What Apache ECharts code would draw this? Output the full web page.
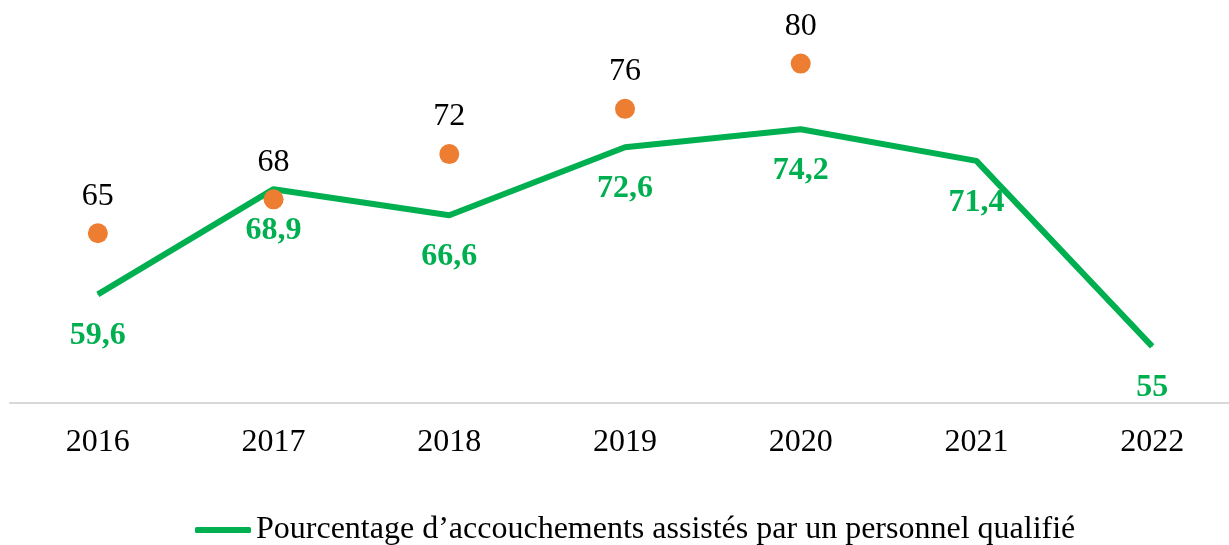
<!DOCTYPE html>
<html>
<head>
<meta charset="utf-8">
<script src="https://cdn.jsdelivr.net/npm/echarts@6/dist/echarts.min.js"></script>
<style>
  html, body { margin: 0; padding: 0; background: #fff; }
  #chart { width: 1229px; height: 545px; }
</style>
</head>
<body>
<div id="chart"></div>
<script>
const years = ["2016", "2017", "2018", "2019", "2020", "2021", "2022"];
const qualifiedBirths = [59.6, 68.9, 66.6, 72.6, 74.2, 71.4, 55];
const targets = [65, 68, 72, 76, 80, null, null];

const myChart = echarts.init(document.getElementById("chart"));
const serif = "Liberation Serif";
const lineName = "Pourcentage d’accouchements assistés par un personnel qualifié";

const option = {
    animation: false,
    textStyle: {
        fontFamily: serif
    },
    grid: {
        left: 10,
        width: 1230,
        top: 7,
        bottom: 142,
        outerBoundsMode: "none"
    },
    legend: {
        data: [{ name: lineName, icon: "roundRect" }],
        bottom: -6,
        left: 190,
        itemWidth: 56,
        itemHeight: 6,
        textStyle: {
            fontFamily: serif,
            fontSize: 32,
            color: "#000"
        }
    },
    xAxis: {
        type: "category",
        data: years,
        axisLine: {
            lineStyle: { color: "#d9d9d9", width: 2 }
        },
        axisTick: { show: false },
        axisLabel: {
            fontFamily: serif,
            fontSize: 32,
            color: "#000",
            margin: 24
        }
    },
    yAxis: {
        type: "value",
        min: 50,
        max: 85,
        show: false,
        splitLine: { show: false }
    },
    series: [{
        name: lineName,
        type: "line",
        data: qualifiedBirths,
        symbol: "circle",
        symbolSize: 1,
        showSymbol: true,
        lineStyle: { color: "#00b050", width: 6 },
        itemStyle: { color: "#00b050" },
        label: {
            show: true,
            position: "bottom",
            distance: 25,
            fontFamily: serif,
            fontSize: 32,
            fontWeight: "bold",
            color: "#00b050",
            formatter: p => String(p.value).replace(".", ",")
        },
        z: 2
    }, {
        name: "Cible",
        type: "scatter",
        data: targets,
        symbolSize: 20,
        itemStyle: { color: "#ed7d31", opacity: 1 },
        label: {
            show: true,
            position: "top",
            distance: 11,
            fontFamily: serif,
            fontSize: 32,
            color: "#000"
        },
        z: 3
    }]
};

myChart.setOption(option);
</script>
</body>
</html>
